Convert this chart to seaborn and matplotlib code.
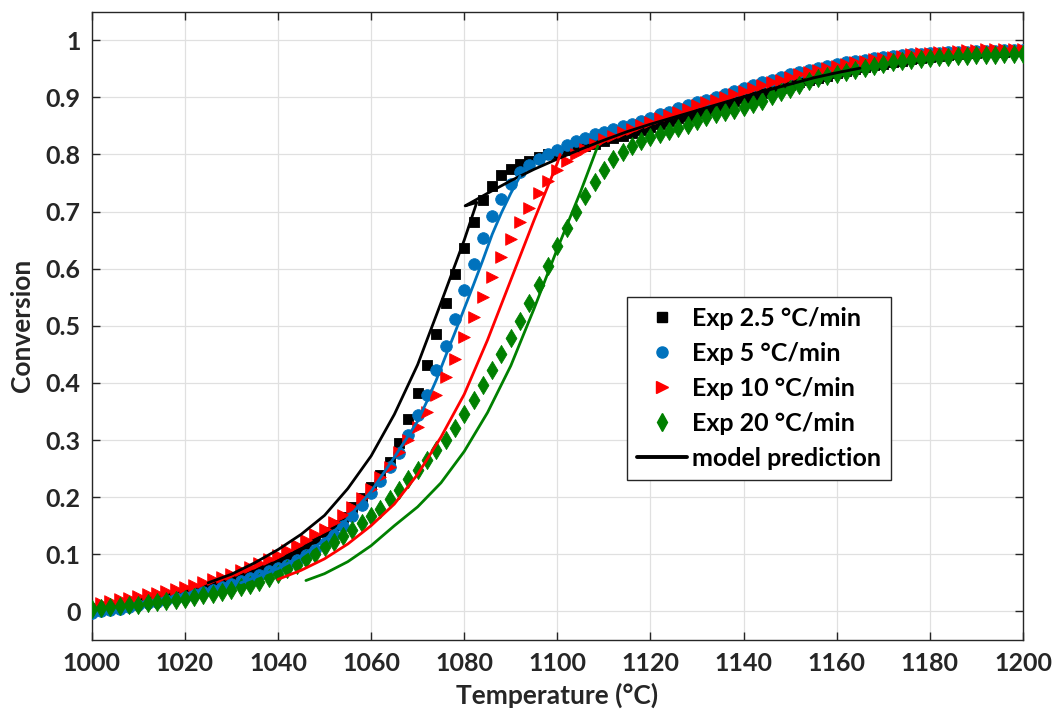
import matplotlib
matplotlib.use("Agg")
import matplotlib.pyplot as plt
import seaborn as sns
import pandas as pd
from matplotlib.lines import Line2D

# ---------------- data ----------------
temperature = list(range(1000, 1201, 2))  # sample grid, every 2 degC

exp_2_5 = [0.003, 0.005, 0.008, 0.010, 0.013, 0.016, 0.019, 0.022, 0.025, 0.028,
           0.032, 0.036, 0.040, 0.045, 0.050, 0.055, 0.061, 0.067, 0.074, 0.081,
           0.089, 0.097, 0.106, 0.116, 0.127, 0.139, 0.152, 0.166, 0.182, 0.199,
           0.218, 0.238, 0.262, 0.294, 0.336, 0.382, 0.432, 0.486, 0.540, 0.591,
           0.637, 0.681, 0.721, 0.745, 0.764, 0.774, 0.783, 0.789, 0.795, 0.800,
           0.803, 0.807, 0.811, 0.815, 0.819, 0.823, 0.828, 0.833, 0.838, 0.843,
           0.848, 0.853, 0.858, 0.863, 0.868, 0.873, 0.878, 0.883, 0.888, 0.893,
           0.898, 0.903, 0.908, 0.912, 0.917, 0.921, 0.926, 0.930, 0.934, 0.938,
           0.942, 0.946, 0.949, 0.953, 0.956, 0.959, 0.962, 0.964, 0.967, 0.969,
           0.971, 0.973, 0.974, 0.976, 0.977, 0.978, 0.979, 0.980, 0.980, 0.981, 0.981]

exp_5 = [-0.003, 0.000, 0.003, 0.005, 0.008, 0.011, 0.014, 0.017, 0.020, 0.023,
         0.026, 0.030, 0.034, 0.038, 0.043, 0.048, 0.053, 0.058, 0.064, 0.070,
         0.076, 0.082, 0.090, 0.099, 0.108, 0.120, 0.134, 0.150, 0.167, 0.186,
         0.207, 0.229, 0.253, 0.278, 0.308, 0.343, 0.378, 0.422, 0.464, 0.512,
         0.562, 0.608, 0.654, 0.692, 0.722, 0.748, 0.769, 0.782, 0.792, 0.800,
         0.808, 0.816, 0.823, 0.829, 0.835, 0.840, 0.845, 0.849, 0.854, 0.859,
         0.864, 0.870, 0.875, 0.881, 0.886, 0.891, 0.896, 0.901, 0.906, 0.911,
         0.916, 0.921, 0.926, 0.930, 0.935, 0.940, 0.944, 0.948, 0.952, 0.955,
         0.958, 0.961, 0.964, 0.966, 0.968, 0.970, 0.972, 0.974, 0.975, 0.976,
         0.977, 0.978, 0.979, 0.980, 0.980, 0.981, 0.981, 0.981, 0.982, 0.982, 0.982]

exp_10 = [0.012, 0.015, 0.018, 0.021, 0.024, 0.027, 0.030, 0.033, 0.036, 0.040,
          0.043, 0.047, 0.051, 0.056, 0.061, 0.066, 0.072, 0.078, 0.085, 0.092,
          0.099, 0.107, 0.116, 0.125, 0.135, 0.145, 0.156, 0.168, 0.182, 0.198,
          0.215, 0.235, 0.253, 0.279, 0.300, 0.323, 0.349, 0.378, 0.410, 0.442,
          0.480, 0.515, 0.550, 0.585, 0.621, 0.652, 0.681, 0.707, 0.732, 0.754,
          0.772, 0.788, 0.800, 0.810, 0.819, 0.827, 0.833, 0.839, 0.845, 0.851,
          0.857, 0.863, 0.869, 0.875, 0.880, 0.886, 0.891, 0.896, 0.901, 0.906,
          0.911, 0.916, 0.921, 0.926, 0.931, 0.936, 0.940, 0.944, 0.948, 0.952,
          0.955, 0.958, 0.961, 0.964, 0.967, 0.969, 0.971, 0.973, 0.975, 0.977,
          0.978, 0.979, 0.980, 0.981, 0.982, 0.983, 0.984, 0.984, 0.985, 0.985, 0.985]

exp_20 = [0.005, 0.006, 0.008, 0.009, 0.011, 0.012, 0.014, 0.016, 0.018, 0.020,
          0.022, 0.025, 0.028, 0.031, 0.034, 0.038, 0.042, 0.047, 0.052, 0.058,
          0.066, 0.074, 0.082, 0.091, 0.101, 0.112, 0.122, 0.132, 0.142, 0.154,
          0.167, 0.180, 0.196, 0.213, 0.231, 0.248, 0.265, 0.282, 0.300, 0.321,
          0.346, 0.370, 0.396, 0.422, 0.450, 0.479, 0.508, 0.540, 0.572, 0.605,
          0.639, 0.671, 0.700, 0.727, 0.751, 0.772, 0.792, 0.805, 0.814, 0.824,
          0.831, 0.836, 0.841, 0.846, 0.852, 0.858, 0.865, 0.870, 0.874, 0.878,
          0.883, 0.888, 0.894, 0.902, 0.909, 0.915, 0.922, 0.928, 0.933, 0.938,
          0.941, 0.945, 0.948, 0.952, 0.955, 0.958, 0.961, 0.964, 0.966, 0.967,
          0.969, 0.970, 0.971, 0.972, 0.973, 0.974, 0.974, 0.974, 0.975, 0.975, 0.975]

# model predictions
model_2_5_T = [1025, 1030, 1035, 1040, 1045, 1050, 1055, 1060, 1065, 1070, 1075, 1080,
               1082.7, 1080.2, 1085, 1090, 1095, 1100, 1105, 1110, 1115, 1120, 1125,
               1130, 1135, 1140, 1145, 1150, 1155, 1160, 1165]
model_2_5_X = [0.050, 0.065, 0.085, 0.108, 0.135, 0.168, 0.215, 0.272, 0.345, 0.432, 0.540, 0.650,
               0.716, 0.710, 0.732, 0.754, 0.774, 0.792, 0.809, 0.825, 0.840, 0.853, 0.865,
               0.877, 0.889, 0.901, 0.912, 0.923, 0.934, 0.943, 0.951]

model_5_T = [1032, 1040, 1045, 1050, 1055, 1060, 1065, 1070, 1072, 1074, 1076, 1078,
             1080, 1082, 1084, 1086, 1088, 1090, 1092]
model_5_X = [0.050, 0.075, 0.097, 0.125, 0.163, 0.210, 0.270, 0.333, 0.368, 0.405, 0.447, 0.488,
             0.530, 0.572, 0.615, 0.660, 0.698, 0.732, 0.762]

model_10_T = [1040, 1045, 1050, 1055, 1060, 1065, 1070, 1075, 1080, 1085, 1090, 1095, 1100, 1100.6]
model_10_X = [0.056, 0.072, 0.092, 0.118, 0.150, 0.188, 0.240, 0.305, 0.380, 0.475, 0.580, 0.685, 0.785, 0.800]

model_20_T = [1046, 1050, 1055, 1060, 1065, 1070, 1075, 1080, 1085, 1090, 1095, 1100, 1105, 1108.7]
model_20_X = [0.054, 0.066, 0.087, 0.115, 0.150, 0.183, 0.225, 0.280, 0.348, 0.430, 0.530, 0.635, 0.735, 0.815]

legend_labels = ["Exp 2.5 °C/min", "Exp 5 °C/min", "Exp 10 °C/min", "Exp 20 °C/min", "model prediction"]
x_ticks = [1000, 1020, 1040, 1060, 1080, 1100, 1120, 1140, 1160, 1180, 1200]
y_ticks = [0, 0.1, 0.2, 0.3, 0.4, 0.5, 0.6, 0.7, 0.8, 0.9, 1.0]
y_tick_labels = ["0", "0.1", "0.2", "0.3", "0.4", "0.5", "0.6", "0.7", "0.8", "0.9", "1"]

# ---------------- style ----------------
sns.set_theme(style="whitegrid")
plt.rcParams["font.family"] = ["Lato", "DejaVu Sans"]
plt.rcParams["font.weight"] = "bold"
plt.rcParams["axes.labelweight"] = "bold"

dark = "#262626"
colors = ["#000000", "#0072BD", "#FF0000", "#008000"]
markers = ["s", "o", ">", "d"]
sizes = [45, 70, 70, 85]

fig = plt.figure(figsize=(10.59, 7.15), dpi=100)
ax = fig.add_axes([0.0866, 0.105, 0.8794, 0.8787])
ax.set_facecolor("white")

series = [exp_2_5, exp_5, exp_10, exp_20]
for vals, c, m, s in zip(series, colors, markers, sizes):
    df = pd.DataFrame({"T": temperature, "X": vals})
    sns.scatterplot(data=df, x="T", y="X", ax=ax, marker=m, s=s, color=c,
                    edgecolor=c, linewidth=0.6, legend=False, zorder=3)

models = [(model_2_5_T, model_2_5_X, colors[0]),
          (model_5_T, model_5_X, colors[1]),
          (model_10_T, model_10_X, colors[2]),
          (model_20_T, model_20_X, colors[3])]
for mt, mx, c in models:
    dfm = pd.DataFrame({"T": mt, "X": mx})
    sns.lineplot(data=dfm, x="T", y="X", ax=ax, color=c, lw=2.0, sort=False,
                 estimator=None, legend=False, zorder=4)

ax.set_xlim(1000, 1200)
ax.set_ylim(-0.05, 1.05)
ax.set_xticks(x_ticks)
ax.set_xticklabels([str(t) for t in x_ticks])
ax.set_yticks(y_ticks)
ax.set_yticklabels(y_tick_labels)

ax.grid(True, color="#e0e0e0", lw=0.9)
ax.set_axisbelow(True)
for sp in ax.spines.values():
    sp.set_visible(True)
    sp.set_color(dark)
    sp.set_linewidth(1.0)

ax.tick_params(axis="both", which="major", direction="in", length=6, width=1.0,
               color=dark, labelcolor=dark, labelsize=18, top=True, right=True,
               bottom=True, left=True)
ax.tick_params(axis="x", pad=9)
ax.tick_params(axis="y", pad=8)
for lab in ax.get_xticklabels() + ax.get_yticklabels():
    lab.set_fontweight("bold")

ax.set_xlabel("Temperature (°C)", fontsize=19, fontweight="bold", color=dark, labelpad=5)
ax.set_ylabel("Conversion", fontsize=19, fontweight="bold", color=dark, labelpad=8)

handles = [Line2D([], [], ls="none", marker=m, color=c, markeredgecolor=c, markersize=ms)
           for m, c, ms in zip(markers, colors, [6.5, 8, 8, 9])]
handles.append(Line2D([], [], color="black", lw=2.8))
leg = ax.legend(handles, legend_labels, loc="upper left", bbox_to_anchor=(0.575, 0.546),
                borderaxespad=0, frameon=True, fancybox=False, edgecolor=dark,
                framealpha=1, prop={"weight": "bold", "size": 18},
                handlelength=2.0, handletextpad=0.2, labelspacing=0.48, borderpad=0.4)
leg.get_frame().set_linewidth(1.0)
for t in leg.get_texts():
    t.set_color("black")

fig.savefig("out.png", dpi=100)
